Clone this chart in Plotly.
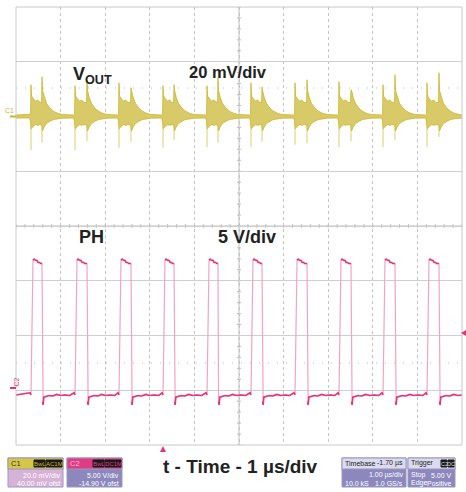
import plotly.graph_objects as go

# ---------------- data (read from the screen capture) ----------------
# switching edges of PH (time in microseconds, 1 us/div)
RISE_T = [0.336, 1.323, 2.309, 3.296, 4.283, 5.269, 6.256, 7.242, 8.229, 9.215]
FALL_T = [0.583, 1.592, 2.578, 3.543, 4.529, 5.516, 6.525, 7.511, 8.498, 9.484]

# VOUT ripple spikes per cycle (mV, 20 mV/div)
SPIKE_R_TOP = [11.6, 11.2, 12.3, 11.2, 11.2, 12.3, 12.3, 12.7, 11.6, 12.3]
SPIKE_R_BOT = [-12.2, -12.2, -11.4, -11.4, -11.1, -11.1, -10.3, -11.1, -11.1, -11.1]
SPIKE_F_TOP = [14.5, 13.4, 10.5, 11.6, 14.1, 10.8, 13.4, 9.8, 15.2, 16.0]
SPIKE_F_BOT = [-9.5, -9.0, -9.2, -8.6, -9.5, -9.2, -9.8, -9.0, -8.6, -7.5]

# ringing envelope during on-time (offset after rise in us, upper mV, lower mV)
ON_DT = [0.012, 0.05, 0.10, 0.15, 0.20]
ON_UP = [7.5, 6.6, 5.6, 6.0, 5.2]
ON_LO = [-4.4, -3.6, -3.0, -3.2, -3.0]
# decaying ringing after the falling edge
OFF_DT = [0.012, 0.05, 0.10, 0.18, 0.26, 0.36, 0.46]
OFF_UP = [9.5, 7.0, 4.8, 3.0, 1.9, 1.1, 0.7]
OFF_LO = [-5.2, -3.8, -2.6, -1.7, -1.1, -0.8, -0.6]
BASE_NOISE = 0.55  # mV half-width of the idle trace

# PH switch node (V, 5 V/div)
PH_LOW = -1.0
PH_HIGH_DT = [0.045, 0.07, 0.10, 0.13, 0.16, 0.19, 0.22]
PH_HIGH_V = [11.3, 11.4, 11.3, 11.3, 11.1, 11.1, 11.0]
PH_LOW_DT = [0.012, 0.025, 0.04, 0.09, 0.16, 0.24, 0.33, 0.42, 0.52, 0.62]
PH_LOW_V = [-1.6, -1.9, -1.2, -1.15, -1.05, -1.1, -0.95, -1.05, -1.0, -1.05]

# channel reference levels on screen (divisions from bottom)
C1_ZERO_DIV = 6.0
C2_ZERO_DIV = 1.114
C1_MV_PER_DIV = 20.0
C2_V_PER_DIV = 5.0

# ---------------- build traces ----------------
def v1(mv):
    return C1_ZERO_DIV + mv / C1_MV_PER_DIV


def v2(v):
    return C2_ZERO_DIV + v / C2_V_PER_DIV


TAIL_CUT = -4.5  # below this the fast spikes are drawn faint
t_up, y_up, t_lo, y_lo = [0.0], [v1(BASE_NOISE)], [0.0], [v1(-BASE_NOISE)]
tail_x, tail_y = [], []
for i, (tr, tf) in enumerate(zip(RISE_T, FALL_T)):
    pts = [(tr - 0.03, BASE_NOISE, -BASE_NOISE), (tr - 0.01, 0.8, -2.0),
           (tr, SPIKE_R_TOP[i], TAIL_CUT)]
    pts += [(tr + d, u, l) for d, u, l in zip(ON_DT, ON_UP, ON_LO)]
    pts += [(tf - 0.01, 5.0, -3.0), (tf, SPIKE_F_TOP[i], TAIL_CUT)]
    pts += [(tf + d, u, l) for d, u, l in zip(OFF_DT, OFF_UP, OFF_LO)]
    for t, u, l in pts:
        t_up.append(t); y_up.append(v1(u))
        t_lo.append(t); y_lo.append(v1(l))
    tail_x += [tr, tr, None, tf, tf, None]
    tail_y += [v1(TAIL_CUT), v1(SPIKE_R_BOT[i]), None, v1(TAIL_CUT), v1(SPIKE_F_BOT[i]), None]
t_up.append(10.0); y_up.append(v1(BASE_NOISE))
t_lo.append(10.0); y_lo.append(v1(-BASE_NOISE))
vout_x = t_up + t_lo[::-1]
vout_y = y_up + y_lo[::-1]

ph_t, ph_v = [0.0], [PH_LOW]
hi_t, hi_v = [], []
lo_t, lo_v = [0.0], [PH_LOW]
for tr, tf in zip(RISE_T, FALL_T):
    ph_t += [tr - 0.02, tr]
    ph_v += [PH_LOW + 0.2, PH_LOW]
    lo_t += [tr - 0.02, tr, None]
    lo_v += [PH_LOW + 0.2, PH_LOW, None]
    for d, v in zip(PH_HIGH_DT, PH_HIGH_V):
        ph_t.append(tr + d); ph_v.append(v)
        hi_t.append(tr + d); hi_v.append(v)
    ph_t.append(tf); ph_v.append(PH_HIGH_V[-1])
    hi_t += [tf, None]; hi_v += [PH_HIGH_V[-1], None]
    for d, v in zip(PH_LOW_DT, PH_LOW_V):
        if tf + d < 10:
            ph_t.append(tf + d); ph_v.append(v)
            lo_t.append(tf + d); lo_v.append(v)
ph_t.append(10.0); ph_v.append(PH_LOW)
lo_t.append(10.0); lo_v.append(PH_LOW)

YEL = "#C9B52C"
YEL_L = "#E2D588"
PINK = "#E8327C"
PINK_L = "#F3A3C4"

fig = go.Figure()
fig.add_trace(go.Scatter(x=tail_x, y=tail_y, mode="lines",
                         line=dict(color=YEL_L, width=1.2), hoverinfo="skip",
                         showlegend=False))
fig.add_trace(go.Scatter(x=vout_x, y=vout_y, fill="toself", mode="lines",
                         line=dict(color=YEL, width=0.8),
                         fillpattern=dict(shape="|", fgcolor=YEL, bgcolor=YEL_L,
                                          size=2, solidity=0.7),
                         hoverinfo="skip", showlegend=False))
fig.add_trace(go.Scatter(x=ph_t, y=[v2(v) for v in ph_v], mode="lines",
                         line=dict(color=PINK_L, width=1.2), showlegend=False))
fig.add_trace(go.Scatter(x=hi_t, y=[None if v is None else v2(v) for v in hi_v],
                         mode="lines", line=dict(color=PINK, width=1.6),
                         connectgaps=False, showlegend=False))
fig.add_trace(go.Scatter(x=lo_t, y=[None if v is None else v2(v) for v in lo_v],
                         mode="lines", line=dict(color=PINK, width=1.6),
                         connectgaps=False, showlegend=False))

# ---------------- layout helpers ----------------
L, T, W, H = 16, 7, 446, 438


def px(xp):
    return (xp - L) / W


def py(yp):
    return (T + H - yp) / H


shapes = []
# centre lines
shapes.append(dict(type="line", xref="x", yref="y", x0=5, x1=5, y0=0, y1=8,
                   line=dict(color="#BDBDBD", width=1), layer="below"))
shapes.append(dict(type="line", xref="x", yref="y", x0=0, x1=10, y0=4, y1=4,
                   line=dict(color="#BDBDBD", width=1), layer="below"))
# minor ticks on centre lines
for k in range(41):
    yy = k * 0.2
    shapes.append(dict(type="line", xref="x", yref="y", x0=4.955, x1=5.045, y0=yy, y1=yy,
                       line=dict(color="#BDBDBD", width=1), layer="below"))
for k in range(51):
    xx = k * 0.2
    shapes.append(dict(type="line", xref="x", yref="y", x0=xx, x1=xx, y0=3.965, y1=4.035,
                       line=dict(color="#BDBDBD", width=1), layer="below"))
# dotted cursor lines
for yy in (6.52, 1.498):
    shapes.append(dict(type="line", xref="x", yref="y", x0=0, x1=10, y0=yy, y1=yy,
                       line=dict(color="#BBBBBB", width=1, dash="1px,8px"), layer="below"))
# frame
shapes.append(dict(type="rect", xref="paper", yref="paper", x0=0, x1=1, y0=0, y1=1,
                   line=dict(color="#C8C8C8", width=1)))
# channel ground markers
shapes.append(dict(type="line", xref="paper", yref="y", x0=px(10), x1=px(16),
                   y0=C1_ZERO_DIV, y1=C1_ZERO_DIV, line=dict(color=YEL, width=2)))
shapes.append(dict(type="line", xref="paper", yref="paper", x0=px(10), x1=px(16),
                   y0=py(388), y1=py(388), line=dict(color=PINK, width=2)))
# trigger markers
shapes.append(dict(type="path", xref="paper", yref="paper",
                   path=f"M {px(160)} {py(452)} L {px(166)} {py(452)} L {px(163)} {py(446)} Z",
                   fillcolor=PINK, line=dict(width=0)))
shapes.append(dict(type="path", xref="paper", yref="paper",
                   path=f"M {px(466)} {py(330)} L {px(466)} {py(336)} L {px(461)} {py(333)} Z",
                   fillcolor=PINK, line=dict(width=0)))


def box(x0, x1, y0, y1, color, line="#9A96C0"):
    shapes.append(dict(type="rect", xref="paper", yref="paper", x0=px(x0), x1=px(x1),
                       y0=py(y1), y1=py(y0), fillcolor=color, line=dict(color=line, width=1)))


# info boxes
box(8, 63, 458, 487, "#D7B2D8")
box(8, 63, 458, 469, "#D6C648")
box(67, 122, 458, 487, "#8C88BE")
box(67, 122, 458, 469, "#E03C84")
box(342, 406, 458, 487, "#8C88BE")
box(342, 406, 458, 469, "#DCDAEE")
box(408, 455, 458, 487, "#8C88BE")
box(408, 455, 458, 469, "#DCDAEE")
# badges
box(34, 45, 460, 467, "#1A1A1A", line="#1A1A1A")
box(46, 62, 460, 467, "#1A1A1A", line="#1A1A1A")
box(93, 104, 460, 467, "#1A1A1A", line="#1A1A1A")
box(105, 121, 460, 467, "#1A1A1A", line="#1A1A1A")
box(441, 447, 460, 467, "#1A1A1A", line="#1A1A1A")
box(448, 454, 460, 467, "#1A1A1A", line="#1A1A1A")

ann = []
BOLD = "Liberation Sans"
SMALL = "Liberation Sans Narrow, Liberation Sans, Arial"


def text(s, xp, yp, size, color="#222222", xa="left", bold=False, fam=BOLD, angle=0):
    ann.append(dict(text=f"<b>{s}</b>" if bold else s, xref="paper", yref="paper",
                    x=px(xp), y=py(yp), xanchor=xa, yanchor="middle", showarrow=False,
                    font=dict(family=fam, size=size, color=color), textangle=angle))


text("V<sub>OUT</sub>", 71, 75, 18, bold=True)
text("20 mV/div", 187, 72, 16.5, bold=True)
text("PH", 77, 237, 18, bold=True)
text("5 V/div", 216, 237, 18, bold=True)
text("t - Time - 1 µs/div", 240, 466, 19, bold=True, xa="center")

text("C1", 3, 110, 7, color=YEL, fam=SMALL)
text("C2", 10, 382, 7, color=PINK, fam=SMALL, angle=-90)

text("C1", 9, 463, 7.5, color="#333333", fam=SMALL)
text("BwL", 39.5, 463.5, 6, color=YEL, fam=SMALL, xa="center")
text("AC1M", 54, 463.5, 6, color=YEL, fam=SMALL, xa="center")
text("20.0 mV/div", 62, 475, 7, color="#FFFFFF", fam=SMALL, xa="right")
text("40.00 mV ofst", 62, 483, 7, color="#FFFFFF", fam=SMALL, xa="right")

text("C2", 68, 463, 7.5, color="#F7C0D8", fam=SMALL)
text("BwL", 98.5, 463.5, 6, color="#E03C84", fam=SMALL, xa="center")
text("DC1M", 113, 463.5, 6, color="#E03C84", fam=SMALL, xa="center")
text("5.00 V/div", 121, 475, 7, color="#FFFFFF", fam=SMALL, xa="right")
text("-14.90 V ofst", 121, 483, 7, color="#FFFFFF", fam=SMALL, xa="right")

text("Timebase", 343, 463, 7, color="#222222", fam=SMALL)
text("-1.70 µs", 405, 463, 7, color="#222222", fam=SMALL, xa="right")
text("1.00 µs/div", 405, 475, 7, color="#FFFFFF", fam=SMALL, xa="right")
text("10.0 kS", 343, 483, 7, color="#FFFFFF", fam=SMALL)
text("1.0 GS/s", 405, 483, 7, color="#FFFFFF", fam=SMALL, xa="right")

text("Trigger", 409, 463, 7, color="#222222", fam=SMALL)
text("C2", 444, 463.5, 5.5, color="#DDDDDD", fam=SMALL, xa="center")
text("DC", 451, 463.5, 5.5, color="#DDDDDD", fam=SMALL, xa="center")
text("Stop", 409, 475, 7, color="#FFFFFF", fam=SMALL)
text("5.00 V", 454, 475, 7, color="#FFFFFF", fam=SMALL, xa="right")
text("Edge", 409, 483, 7, color="#FFFFFF", fam=SMALL)
text("Positive", 454, 483, 7, color="#FFFFFF", fam=SMALL, xa="right")

fig.update_layout(
    width=466, height=492,
    margin=dict(l=L, r=466 - L - W, t=T, b=492 - T - H),
    paper_bgcolor="white", plot_bgcolor="white",
    xaxis=dict(range=[0, 10], dtick=1, showgrid=True, gridcolor="#C4C4C4",
               griddash="dot", gridwidth=1, zeroline=False, showticklabels=False,
               ticks="", showline=False, fixedrange=True),
    yaxis=dict(range=[0, 8], dtick=1, showgrid=True, gridcolor="#CFCFCF",
               gridwidth=1, zeroline=False, showticklabels=False, ticks="",
               showline=False, fixedrange=True),
    shapes=shapes, annotations=ann, showlegend=False,
)

fig.write_html("out.html", config={"displayModeBar": False},
               post_script="document.body.style.margin='0';document.body.style.overflow='hidden';")
